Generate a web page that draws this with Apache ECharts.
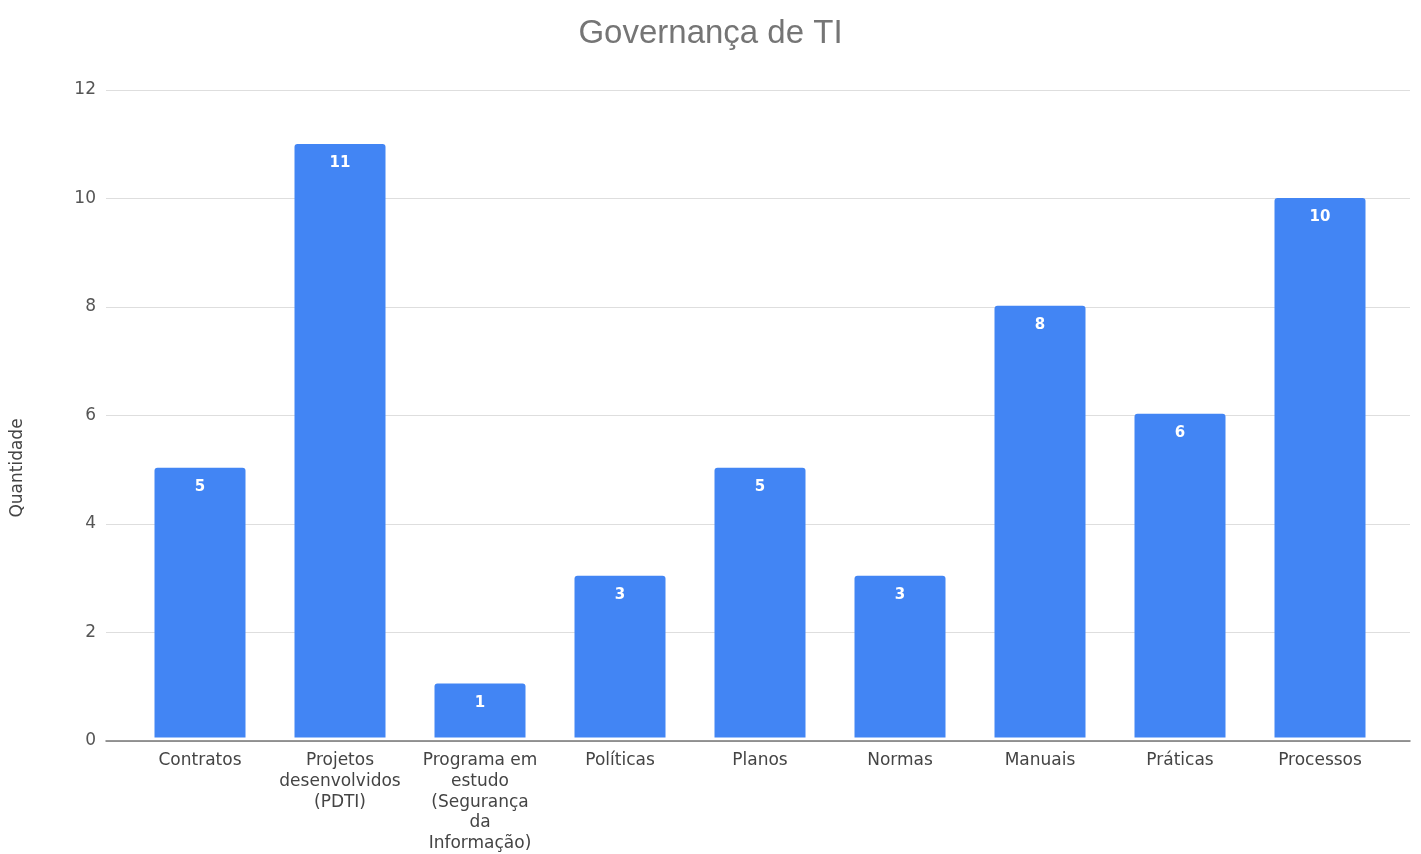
<!DOCTYPE html>
<html>
<head>
<meta charset="utf-8">
<script src="https://cdn.jsdelivr.net/npm/echarts@6/dist/echarts.min.js"></script>
<style>html,body{margin:0;padding:0;background:#fff}#c{width:1421px;height:854px}</style>
</head>
<body>
<div id="c"></div>
<script>
const categories = ["Contratos", "Projetos\ndesenvolvidos\n(PDTI)", "Programa em\nestudo\n(Segurança\nda\nInformação)", "Políticas", "Planos", "Normas", "Manuais", "Práticas", "Processos"];
const values = [5, 11, 1, 3, 5, 3, 8, 6, 10];
const yTicks = { min: 0, max: 12, interval: 2 };
const titleText = "Governança de TI";
const yName = "Quantidade";

const font = "'DejaVu Sans', sans-serif";
const titleFont = "'Liberation Sans', Arial, sans-serif";
const chart = echarts.init(document.getElementById('c'), null, { renderer: 'canvas' });
chart.setOption({
  animation: false,
  backgroundColor: '#fff',
  title: {
    text: titleText, left: 'center', top: 12,
    textStyle: { fontFamily: titleFont, fontSize: 33, fontWeight: 'normal', color: '#757575' }
  },
  graphic: [{
    type: 'text', rotation: Math.PI / 2,
    x: 18, y: 468,
    style: { text: yName, font: "17px 'DejaVu Sans', sans-serif", fill: '#444', align: 'center', verticalAlign: 'middle' }
  }],
  grid: [
    { left: 106, right: 11, top: 90, bottom: 113 },
    { left: 130, right: 31, top: 90, bottom: 113 }
  ],
  xAxis: [
    { type: 'value', gridIndex: 0, min: 0, max: 1, show: true,
      axisLine: { show: true, lineStyle: { color: '#757575', width: 1.5 } },
      axisTick: { show: false }, axisLabel: { show: false }, splitLine: { show: false } },
    { type: 'category', gridIndex: 1, data: categories,
      axisLine: { show: false }, axisTick: { show: false },
      axisLabel: { interval: 0, margin: 13, fontFamily: font, fontSize: 17, color: '#444', lineHeight: 20.7 } }
  ],
  yAxis: [
    { type: 'value', gridIndex: 0, min: yTicks.min, max: yTicks.max, interval: yTicks.interval,
      axisLine: { show: false }, axisTick: { show: false },
      axisLabel: { margin: 10, fontFamily: font, fontSize: 17, color: '#555' },
      splitLine: { lineStyle: { color: '#dedede', width: 1 } } },
    { type: 'value', gridIndex: 1, min: yTicks.min, max: yTicks.max, interval: yTicks.interval, show: false,
      splitLine: { show: false } }
  ],
  series: [{
    type: 'bar', xAxisIndex: 1, yAxisIndex: 1, data: values, barWidth: 91,
    itemStyle: { color: '#4285F4', borderRadius: [3, 3, 0, 0] },
    label: { show: true, position: 'insideTop', distance: 12, color: '#fff',
      fontFamily: font, fontSize: 15, fontWeight: 'bold' }
  }]
});
</script>
</body>
</html>
